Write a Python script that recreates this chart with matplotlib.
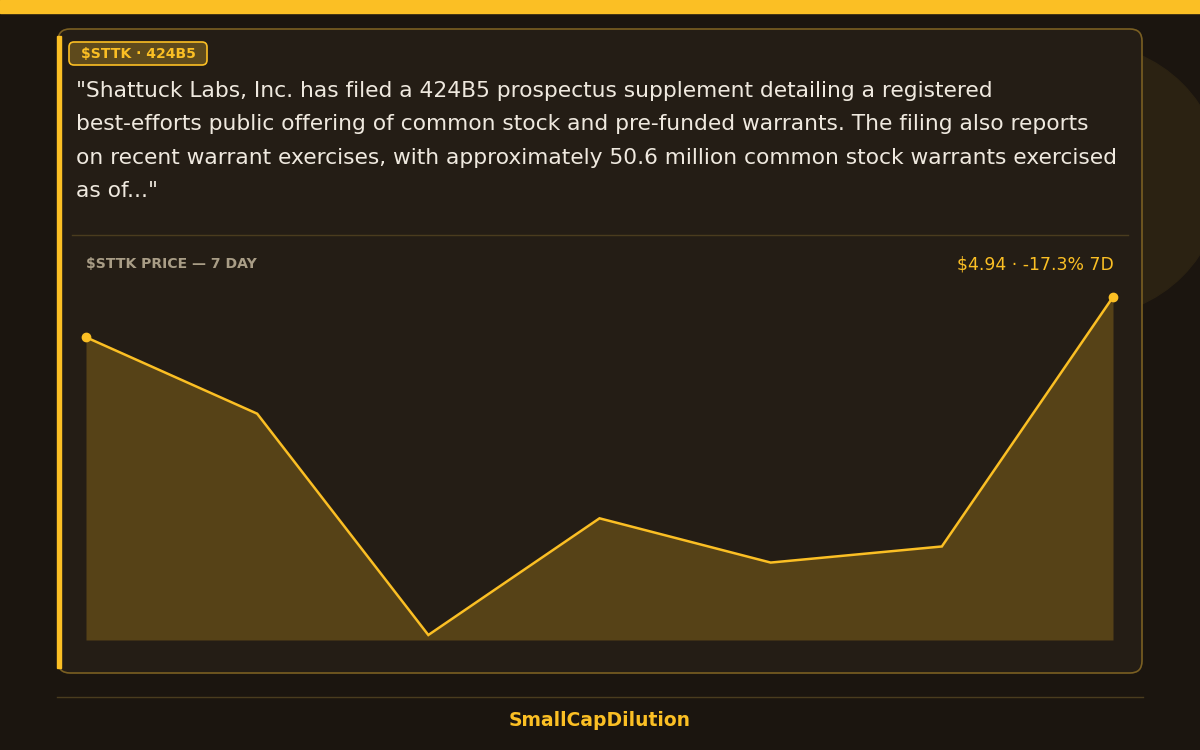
import numpy as np
import matplotlib.pyplot as plt
from matplotlib.patches import FancyBboxPatch, Rectangle, Circle

# Datos del precio 7 dias
days = [1, 2, 3, 4, 5, 6, 7]
prices = [4.84, 4.65, 4.10, 4.39, 4.28, 4.32, 4.94]

ticker = "$STTK"
form = "424B5"
summary_lines = [
    "\"Shattuck Labs, Inc. has filed a 424B5 prospectus supplement detailing a registered",
    "best-efforts public offering of common stock and pre-funded warrants. The filing also reports",
    "on recent warrant exercises, with approximately 50.6 million common stock warrants exercised",
    "as of...\"",
]
price_label = "$4.94 · -17.3% 7D"
brand = "SmallCapDilution"

#Colores
amber = '#fbbf24'
bg = '#1b150f'
card = '#241d15'
fill_c = '#564217'
text_c = '#efe9df'
muted = '#a99d86'

W, H = 1200, 750
fig = plt.figure(figsize=(12, 7.5), dpi=100, facecolor=bg)

#Fondo en coordenadas de pixel
bgax = fig.add_axes([0, 0, 1, 1])
bgax.set_xlim(0, W)
bgax.set_ylim(H, 0)
bgax.axis('off')

bgax.add_patch(Circle((1086, 180), 136, color='#2b2212', zorder=0))
bgax.add_patch(Rectangle((0, 0), W, 13, color=amber, zorder=1))

#Tarjeta
bgax.add_patch(FancyBboxPatch((58, 29), 1084, 644, boxstyle="round,pad=0,rounding_size=12",
                              facecolor=card, edgecolor='#7a5f22', linewidth=1.2, zorder=2))
bgax.add_patch(Rectangle((57, 36), 4, 632, color=amber, zorder=3))

#Etiqueta
bgax.add_patch(FancyBboxPatch((69, 42), 138, 23, boxstyle="round,pad=0,rounding_size=5",
                              facecolor='#5e4a1c', edgecolor=amber, linewidth=1.2, zorder=3))
bgax.text(138, 54, f"{ticker} · {form}", color=amber, fontsize=10.1, fontweight='bold',
          ha='center', va='center', zorder=4)

#Texto
for i, line in enumerate(summary_lines):
    bgax.text(76, 91 + i * 33.3, line, color=text_c, fontsize=15.7, ha='left', va='center', zorder=4)

bgax.plot([72, 1128], [235, 235], color='#4a3c1e', linewidth=1, zorder=3)
bgax.text(86, 264, f"{ticker} PRICE — 7 DAY", color=muted, fontsize=10.1, fontweight='bold',
          ha='left', va='center', zorder=4)
bgax.text(1114, 265, price_label, color=amber, fontsize=12.4, ha='right', va='center', zorder=4)

#Pie
bgax.plot([57, 1143], [697, 697], color='#4a3c1e', linewidth=1, zorder=3)
bgax.text(600, 721, brand, color=amber, fontsize=13.5, fontweight='bold',
          ha='center', va='center', zorder=4)

#Grafica de precio
ax = fig.add_axes([86 / W, (H - 640) / H, (1113 - 86) / W, (640 - 297) / H])
ax.patch.set_alpha(0)
pad = (max(prices) - min(prices)) * 5 / 338
ax.set_xlim(days[0], days[-1])
ax.set_ylim(min(prices) - pad, max(prices))
ax.fill_between(days, prices, min(prices) - pad, color=fill_c, linewidth=0)
ax.plot(days, prices, color=amber, linewidth=1.8, solid_joinstyle='miter')
ax.plot([days[0], days[-1]], [prices[0], prices[-1]], 'o', color=amber, markersize=6, clip_on=False)
ax.axis('off')

fig.savefig('out.png', dpi=100, facecolor=bg)
